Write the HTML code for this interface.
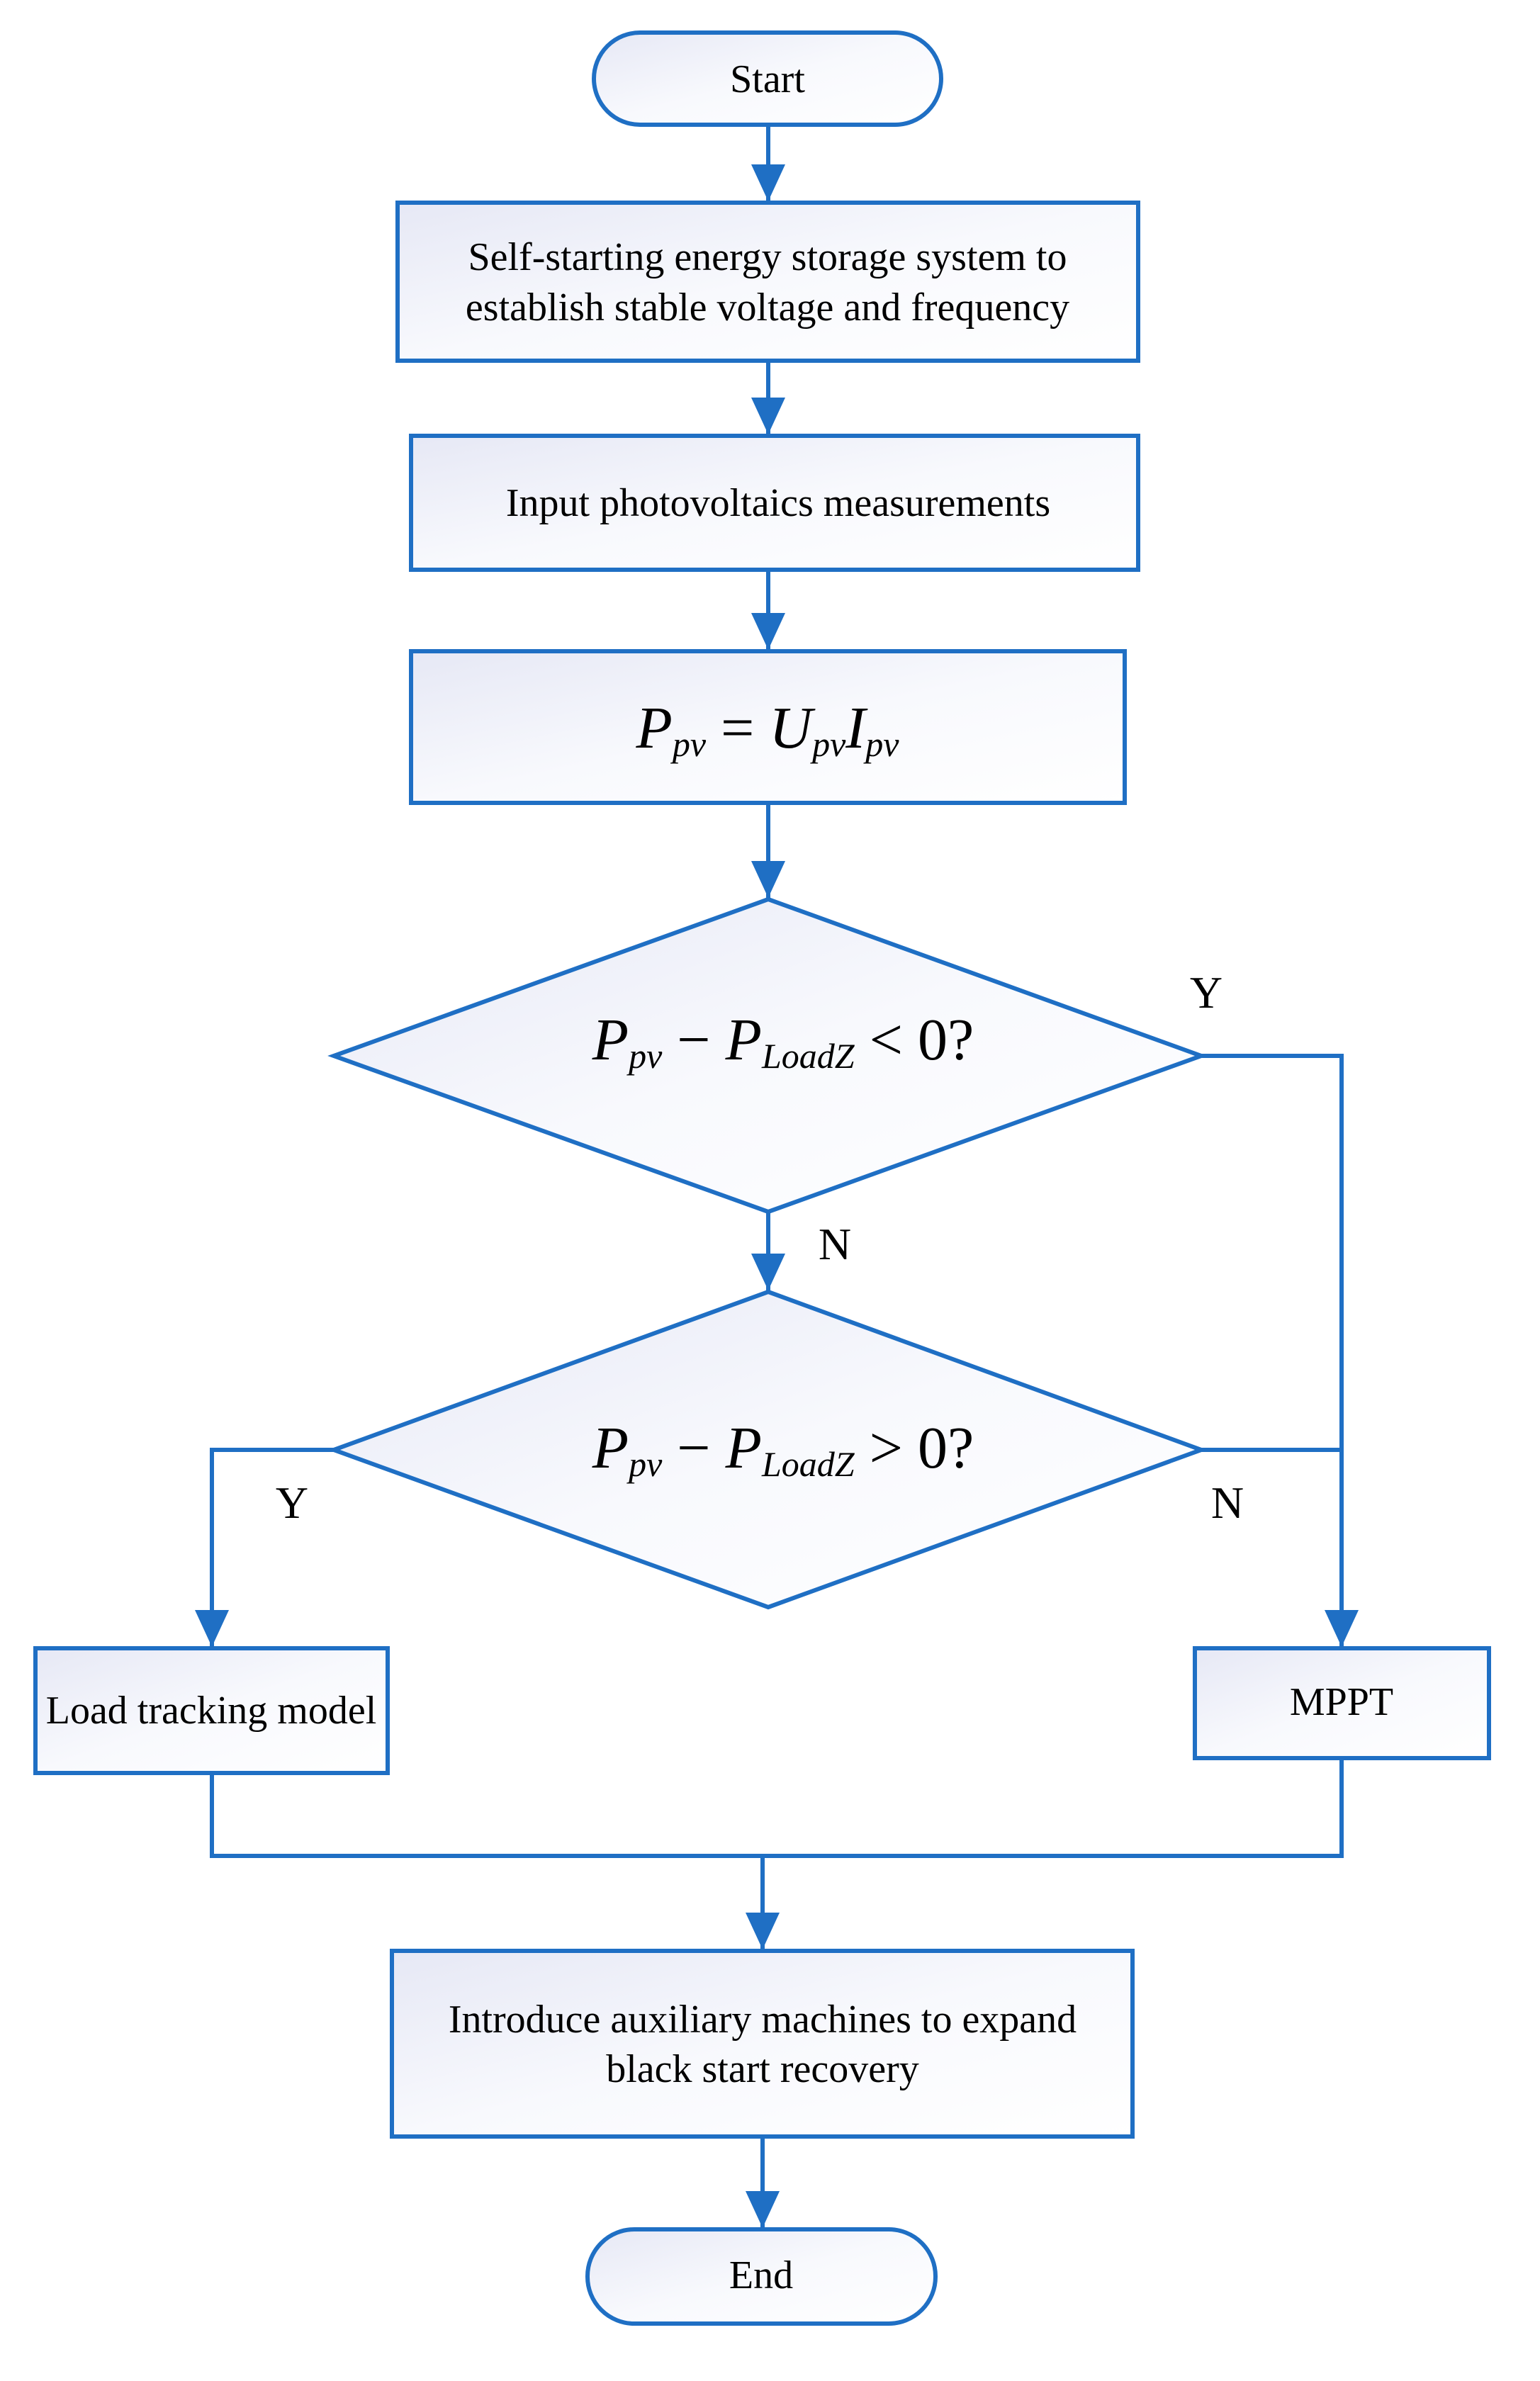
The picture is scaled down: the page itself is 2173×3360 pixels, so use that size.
<!DOCTYPE html>
<html><head><meta charset="utf-8"><style>body{margin:0;background:#fff}svg{display:block}</style></head><body>
<svg width="2173" height="3360" viewBox="0 0 2173 3360" xmlns="http://www.w3.org/2000/svg">
<defs>
<linearGradient id="g" x1="0" y1="0" x2="1" y2="1"><stop offset="0" stop-color="#e6e8f5"/><stop offset="0.5" stop-color="#f8f9fd"/><stop offset="1" stop-color="#ffffff"/></linearGradient>
<marker id="a" markerWidth="54" markerHeight="48" refX="52" refY="24" orient="auto" markerUnits="userSpaceOnUse"><path d="M0,0 L52,24 L0,48 Z" fill="#1f6fc4"/></marker>
</defs>
<g stroke="#1f6fc4" stroke-width="6" fill="url(#g)">
<rect x="838" y="46" width="490" height="130" rx="65"/>
<rect x="561" y="286" width="1045" height="223"/>
<rect x="580" y="615" width="1026" height="189"/>
<rect x="580" y="919" width="1007" height="214"/>
<polygon points="1084,1269 1695,1490 1084,1710 471,1490"/>
<polygon points="1084,1823 1695,2046 1084,2268 471,2046"/>
<rect x="50" y="2326" width="497" height="176"/>
<rect x="1686" y="2326" width="415" height="155"/>
<rect x="553" y="2753" width="1045" height="262"/>
<rect x="829" y="3146" width="491" height="133" rx="66"/>
</g>
<g stroke="#1f6fc4" stroke-width="6" fill="none">
<line x1="1084" y1="176" x2="1084" y2="284" marker-end="url(#a)"/>
<line x1="1084" y1="509" x2="1084" y2="613" marker-end="url(#a)"/>
<line x1="1084" y1="804" x2="1084" y2="917" marker-end="url(#a)"/>
<line x1="1084" y1="1133" x2="1084" y2="1267" marker-end="url(#a)"/>
<line x1="1084" y1="1710" x2="1084" y2="1821" marker-end="url(#a)"/>
<polyline points="1695,1490 1893,1490 1893,2324" marker-end="url(#a)"/>
<line x1="1695" y1="2046" x2="1893" y2="2046"/>
<polyline points="471,2046 299,2046 299,2324" marker-end="url(#a)"/>
<polyline points="299,2502 299,2619 1893,2619 1893,2481"/>
<line x1="1076" y1="2619" x2="1076" y2="2751" marker-end="url(#a)"/>
<line x1="1076" y1="3015" x2="1076" y2="3144" marker-end="url(#a)"/>
</g>
<g font-family="Liberation Serif, serif" font-size="56" fill="#000" text-anchor="middle">
<text x="1083" y="130">Start</text>
<text x="1083" y="381">Self-starting energy storage system to</text>
<text x="1083" y="452">establish stable voltage and frequency</text>
<text x="1098" y="728">Input photovoltaics measurements</text>
<text x="298" y="2432">Load tracking model</text>
<text x="1893" y="2420">MPPT</text>
<text x="1076" y="2868">Introduce auxiliary machines to expand</text>
<text x="1076" y="2938">black start recovery</text>
<text x="1074" y="3229">End</text>
<text x="1702" y="1422" font-size="64">Y</text>
<text x="1178" y="1777" font-size="64">N</text>
<text x="412" y="2142" font-size="64">Y</text>
<text x="1732" y="2142" font-size="64">N</text>
</g>
<g font-family="Liberation Serif, serif" font-size="84" fill="#000">
<text x="1083" y="1055" text-anchor="middle"><tspan font-style="italic">P</tspan><tspan font-style="italic" font-size="50" dy="12">pv</tspan><tspan dy="-12"> = </tspan><tspan font-style="italic">U</tspan><tspan font-style="italic" font-size="50" dy="12">pv</tspan><tspan font-style="italic" dy="-12">I</tspan><tspan font-style="italic" font-size="50" dy="12">pv</tspan></text>
<text x="1105" y="1495" text-anchor="middle"><tspan font-style="italic">P</tspan><tspan font-style="italic" font-size="50" dy="12">pv</tspan><tspan dy="-12"> − </tspan><tspan font-style="italic">P</tspan><tspan font-style="italic" font-size="50" dy="12">LoadZ</tspan><tspan dy="-12"> &lt; 0?</tspan></text>
<text x="1105" y="2071" text-anchor="middle"><tspan font-style="italic">P</tspan><tspan font-style="italic" font-size="50" dy="12">pv</tspan><tspan dy="-12"> − </tspan><tspan font-style="italic">P</tspan><tspan font-style="italic" font-size="50" dy="12">LoadZ</tspan><tspan dy="-12"> &gt; 0?</tspan></text>
</g>
</svg>
</body></html>
